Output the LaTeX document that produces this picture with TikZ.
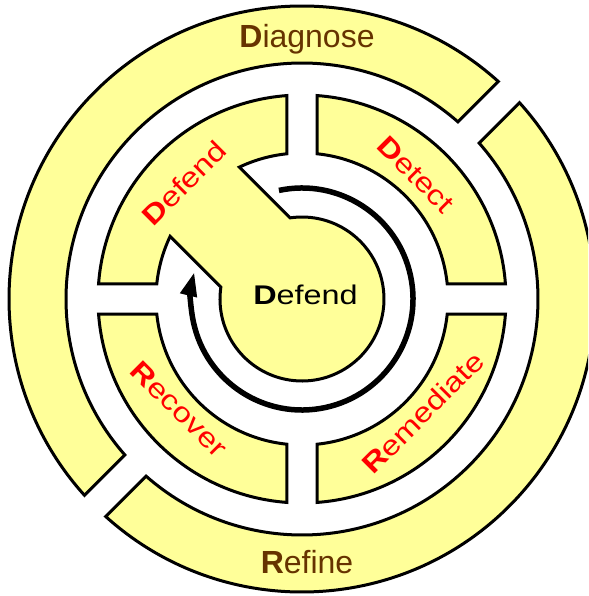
\documentclass[tikz,border=0pt]{standalone}
\usepackage{fontspec}
\setmainfont{Liberation Sans}
\newfontfamily\widesans[FakeStretch=1.2]{Liberation Sans}
\usetikzlibrary{arrows.meta}
\definecolor{ringfill}{HTML}{FFFF99}
\definecolor{ringtext}{HTML}{663300}
\definecolor{stagetext}{HTML}{FF0000}

\begin{document}
\begin{tikzpicture}[x=1pt, y=1pt,
  band/.style={draw=black, line width=3pt, fill=ringfill, line join=miter},
  outerlabel/.style={text=ringtext, font=\fontsize{32}{36}\selectfont, inner sep=0pt, anchor=base},
  stagelabel/.style={text=stagetext, font=\widesans\fontsize{27.5}{30}\selectfont, inner sep=0pt},
  corelabel/.style={text=black, font=\widesans\fontsize{27}{30}\selectfont, inner sep=0pt, anchor=base},
  cycleflow/.style={draw=black, line width=5.5pt, -{Triangle[length=24pt, width=16pt]}}]

\useasboundingbox (-302,-297) rectangle (286,299);
\clip (-302,-297) rectangle (286,299);

% outer ring: two halves split along the 45 degree diagonal
\path[band] (47.93:293) arc[start angle=47.93, end angle=222.07, radius=293]
  -- (221.36:236) arc[start angle=221.36, end angle=48.64, radius=236] -- cycle;
\path[band] (227.93:293) arc[start angle=227.93, end angle=402.07, radius=293]
  -- (401.36:236) arc[start angle=401.36, end angle=228.64, radius=236] -- cycle;

% middle ring: three plain quarters
\path[band] (4.22:204) arc[start angle=4.22, end angle=85.78, radius=204]
  -- (84.10:146) arc[start angle=84.10, end angle=5.90, radius=146] -- cycle;
\path[band] (-85.78:204) arc[start angle=-85.78, end angle=-4.22, radius=204]
  -- (-5.90:146) arc[start angle=-5.90, end angle=-84.10, radius=146] -- cycle;
\path[band] (184.22:204) arc[start angle=184.22, end angle=265.78, radius=204]
  -- (264.10:146) arc[start angle=264.10, end angle=185.90, radius=146] -- cycle;

% top-left quarter joined to the core disc by a straight channel
\path[band] (94.22:204) arc[start angle=94.22, end angle=175.78, radius=204]
  -- (174.10:146) arc[start angle=174.10, end angle=154.61, radius=146]
  -- (171.69:82) arc[start angle=171.69, end angle=458.31, radius=82]
  -- (115.39:146) arc[start angle=115.39, end angle=95.90, radius=146] -- cycle;

% circulating arrow around the core
\draw[cycleflow] (102:111) arc[start angle=102, end angle=-194, radius=111];

% labels
\node[outerlabel] (diagnose) at (5,251) {\textbf{D}iagnose};
\node[outerlabel] (refine) at (5,-274) {\textbf{R}efine};
\node[corelabel] (core) at (3.5,-6) {\textbf{D}efend};

\node[stagelabel, rotate=45] (defend) at (-118,116) {\textbf{D}efend};
\node[stagelabel, rotate=-45] (detect) at (114,124.5) {\textbf{D}etect};
\node[stagelabel, rotate=45] (remediate) at (121,-113.5) {\textbf{R}emediate};
\node[stagelabel, rotate=-45] (recover) at (-123,-110) {\textbf{R}ecover};
\end{tikzpicture}
\end{document}
